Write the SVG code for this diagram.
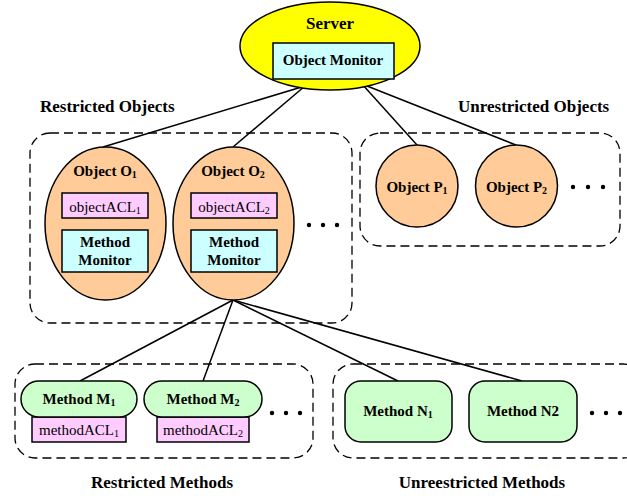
<svg xmlns="http://www.w3.org/2000/svg" width="627" height="496" viewBox="0 0 627 496">
<style>
text{font-family:"Liberation Serif","Times New Roman",serif;fill:#000}
.b{font-weight:bold;font-size:15px}
.t{font-weight:bold;font-size:17px}
.n{font-size:15px}
.c{text-anchor:middle}
.s{font-size:10px}
.ln{stroke:#000;stroke-width:1.5;fill:none}
.grp{fill:none;stroke:#000;stroke-width:1.3;stroke-dasharray:9 5}
.shp{stroke:#000;stroke-width:1.5}
.dot{fill:#000}
</style>
<g id="connectors">
<line class="ln" x1="305" y1="86" x2="103" y2="147"/>
<line class="ln" x1="305" y1="86" x2="233" y2="147"/>
<line class="ln" x1="362" y1="84" x2="417" y2="145"/>
<line class="ln" x1="362" y1="84" x2="516" y2="145"/>
<line class="ln" x1="233" y1="300" x2="80" y2="381"/>
<line class="ln" x1="233" y1="300" x2="203" y2="381"/>
<line class="ln" x1="233" y1="300" x2="398" y2="381"/>
<line class="ln" x1="233" y1="300" x2="522" y2="381"/>
</g>
<g id="groups">
<rect class="grp" x="30" y="133" width="322" height="190" rx="20"/>
<rect class="grp" x="360" y="133" width="260" height="113" rx="20"/>
<rect class="grp" x="15" y="364" width="298" height="94" rx="20"/>
<rect class="grp" x="333" y="364" width="310" height="94" rx="20"/>
<text class="t" x="40" y="112">Restricted Objects</text>
<text class="t" x="458" y="112">Unrestricted Objects</text>
<text class="t c" x="162" y="488">Restricted Methods</text>
<text class="t c" x="482" y="488">Unreestricted Methods</text>
</g>
<g id="server">
<ellipse class="shp" cx="330" cy="46" rx="90" ry="44" fill="#ffff00"/>
<text class="t c" x="330" y="29">Server</text>
<rect class="shp" x="273" y="43" width="121" height="36" fill="#ccffff"/>
<text class="b c" x="333" y="65">Object Monitor</text>
</g>
<g id="objectO1">
<ellipse class="shp" cx="105.5" cy="223.5" rx="60.5" ry="76.5" fill="#ffcc99"/>
<text class="b c" x="105" y="176">Object O<tspan class="s" dy="2">1</tspan></text>
<rect class="shp" x="62" y="193" width="86" height="25" fill="#ffccff"/>
<text class="n c" x="105" y="212">objectACL<tspan class="s" dy="2">1</tspan></text>
<rect class="shp" x="62" y="230" width="86" height="42" fill="#ccffff"/>
<text class="b c" x="105" y="247">Method</text>
<text class="b c" x="105" y="265">Monitor</text>
</g>
<g id="objectO2">
<ellipse class="shp" cx="233.5" cy="223.5" rx="60.5" ry="76.5" fill="#ffcc99"/>
<text class="b c" x="233" y="176">Object O<tspan class="s" dy="2">2</tspan></text>
<rect class="shp" x="191" y="193" width="86" height="25" fill="#ffccff"/>
<text class="n c" x="234" y="212">objectACL<tspan class="s" dy="2">2</tspan></text>
<rect class="shp" x="191" y="230" width="86" height="42" fill="#ccffff"/>
<text class="b c" x="234" y="247">Method</text>
<text class="b c" x="234" y="265">Monitor</text>
</g>
<g id="dotsO">
<circle class="dot" cx="309" cy="225" r="2.2"/>
<circle class="dot" cx="323" cy="225" r="2.2"/>
<circle class="dot" cx="337" cy="225" r="2.2"/>
</g>
<g id="objectP1">
<circle class="shp" cx="417" cy="186" r="41" fill="#ffcc99"/>
<text class="b c" x="417" y="192">Object P<tspan class="s" dy="2">1</tspan></text>
</g>
<g id="objectP2">
<circle class="shp" cx="516.5" cy="186" r="41" fill="#ffcc99"/>
<text class="b c" x="516.5" y="192">Object P<tspan class="s" dy="2">2</tspan></text>
</g>
<g id="dotsP">
<circle class="dot" cx="573" cy="187" r="2.2"/>
<circle class="dot" cx="588" cy="187" r="2.2"/>
<circle class="dot" cx="603" cy="187" r="2.2"/>
</g>
<g id="methodM1">
<rect class="shp" x="32" y="417" width="94" height="25" fill="#ffccff"/>
<text class="n c" x="79" y="435">methodACL<tspan class="s" dy="2">1</tspan></text>
<rect class="shp" x="21" y="381" width="116" height="36" rx="18" fill="#ccffcc"/>
<text class="b c" x="79" y="404">Method M<tspan class="s" dy="2">1</tspan></text>
</g>
<g id="methodM2">
<rect class="shp" x="157" y="417" width="92" height="25" fill="#ffccff"/>
<text class="n c" x="203" y="435">methodACL<tspan class="s" dy="2">2</tspan></text>
<rect class="shp" x="144" y="381" width="118" height="36" rx="18" fill="#ccffcc"/>
<text class="b c" x="203" y="404">Method M<tspan class="s" dy="2">2</tspan></text>
</g>
<g id="dotsM">
<circle class="dot" cx="272" cy="413" r="2.2"/>
<circle class="dot" cx="286" cy="413" r="2.2"/>
<circle class="dot" cx="300" cy="413" r="2.2"/>
</g>
<g id="methodN1">
<rect class="shp" x="345" y="381" width="107" height="61" rx="16" fill="#ccffcc"/>
<text class="b c" x="398" y="416">Method N<tspan class="s" dy="2">1</tspan></text>
</g>
<g id="methodN2">
<rect class="shp" x="469" y="381" width="108" height="61" rx="16" fill="#ccffcc"/>
<text class="b c" x="523" y="416">Method N2</text>
</g>
<g id="dotsN">
<circle class="dot" cx="592" cy="413" r="2.2"/>
<circle class="dot" cx="606" cy="413" r="2.2"/>
<circle class="dot" cx="620" cy="413" r="2.2"/>
</g>
</svg>
